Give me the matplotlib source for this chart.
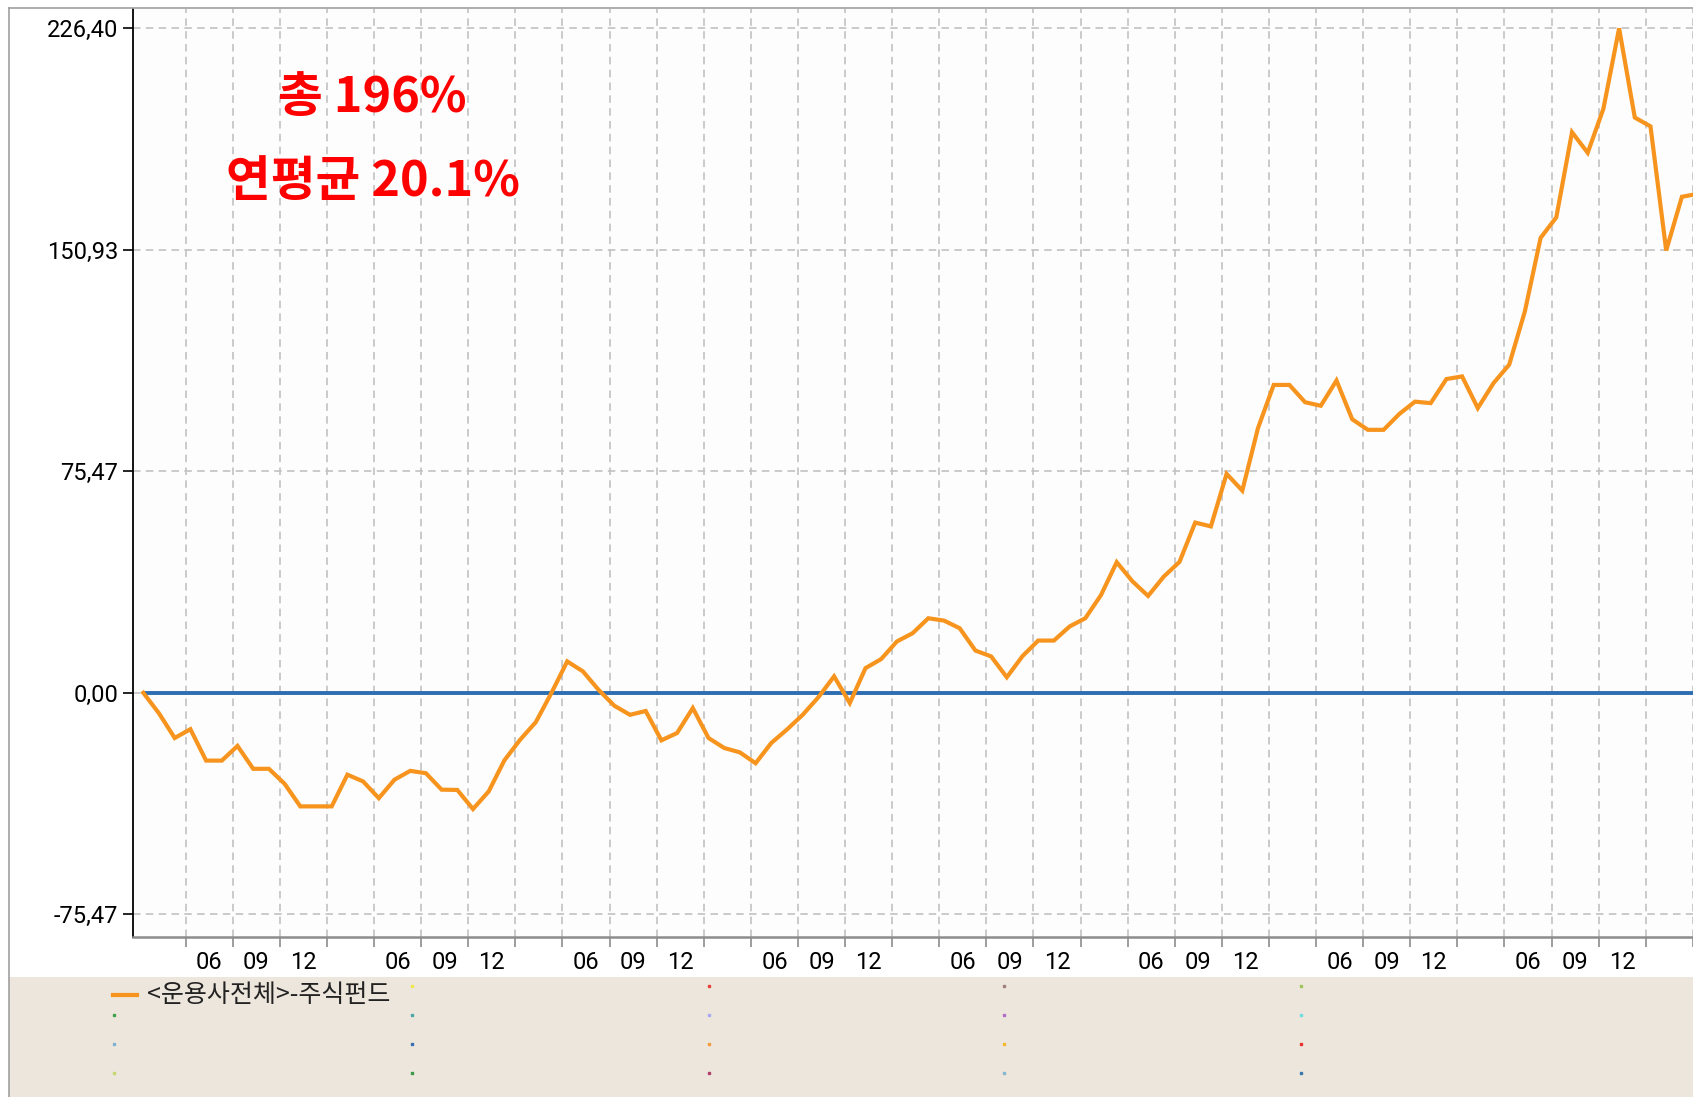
import matplotlib
matplotlib.use("Agg")
import matplotlib.pyplot as plt
from matplotlib.lines import Line2D
from matplotlib.patches import Rectangle
from matplotlib import font_manager

# ---------------- data ----------------
# monthly cumulative return (%) of the equity fund series
fund_values = [
    0.0, -7.0, -15.4, -12.4, -23.1, -23.1, -18.1, -25.9, -25.9, -31.0,
    -38.7, -38.7, -38.7, -27.9, -30.2, -35.9, -29.6, -26.6, -27.4, -33.0,
    -33.1, -39.6, -33.6, -23.0, -16.0, -10.0, 0.0, 10.7, 7.3, 1.0,
    -4.4, -7.5, -6.2, -16.2, -13.7, -5.2, -15.4, -18.8, -20.3, -24.0,
    -17.1, -12.5, -7.5, -1.5, 5.6, -3.5, 8.4, 11.5, 17.5, 20.3,
    25.4, 24.6, 22.0, 14.4, 12.4, 5.3, 12.5, 17.8, 17.8, 22.6,
    25.4, 33.3, 44.5, 38.0, 33.0, 39.6, 44.6, 58.0, 56.7, 74.6,
    68.9, 90.2, 104.9, 104.9, 99.0, 97.8, 106.4, 93.2, 89.6, 89.6,
    95.0, 99.2, 98.7, 106.9, 107.8, 97.0, 105.5, 111.8, 130.0, 155.0,
    162.0, 191.0, 184.0, 199.0, 226.4, 196.0, 193.0, 150.7, 169.0, 170.0,
]
months = list(range(len(fund_values)))
baseline_value = 0.0

series_label = "<운용사전체>-주식펀드"
y_ticks = [226.40, 150.93, 75.47, 0.00, -75.47]
y_tick_labels = ["226,40", "150,93", "75,47", "0,00", "-75,47"]
quarter_labels = ["06", "09", "12", ""]   # repeating per year (Q1 label omitted)
annot_total = "총 196%"
annot_annual = "연평균 20.1%"

legend_dot_colors = [
    [None, "#3fa34d", "#7fb3d5", "#c5d86d"],
    ["#f2e84b", "#4aa8a8", "#3a6fb0", "#3a9a4a"],
    ["#e8413c", "#a9a9f5", "#f59b3a", "#b0406a"],
    ["#a08080", "#b06cc8", "#f5b82e", "#86b8d0"],
    ["#9cc45a", "#6fdede", "#e83030", "#3a78b0"],
]

# ---------------- styling ----------------
W, H = 1693, 1097
FUND_COLOR = "#f7941e"
BASE_COLOR = "#2d6db2"
GRID_COLOR = "#c2c2c2"
LEGEND_BG = "#ede6dc"
QUARTER_START = 2.7   # month-index position of first quarter boundary

installed = {f.name for f in font_manager.fontManager.ttflist}
tick_family = ["Liberation Sans Narrow"] if "Liberation Sans Narrow" in installed else ["Roboto"]
tick_family = tick_family + ["DejaVu Sans"]
cjk_family = ["Noto Sans CJK KR", "DejaVu Sans"]

fig = plt.figure(figsize=(W / 100, H / 100), dpi=100)
fig.patch.set_facecolor("white")

def fx(px):
    return px / W

def fy(py):
    return 1 - py / H

# legend background band
fig.add_artist(Rectangle((fx(9), 0), 1 - fx(9), fy(977), transform=fig.transFigure,
                         facecolor=LEGEND_BG, edgecolor="none", zorder=0))
# outer frame lines
fig.add_artist(Line2D([fx(9), 1], [fy(7.5), fy(7.5)], transform=fig.transFigure,
                      color="#a0a0a0", lw=1.2))
fig.add_artist(Line2D([fx(9), fx(9)], [0, fy(7.5)], transform=fig.transFigure,
                      color="#a0a0a0", lw=1.2))

ax_left, ax_right, ax_top, ax_bot = 133, 1693, 8.5, 937
ax = fig.add_axes([fx(ax_left), fy(ax_bot), fx(ax_right - ax_left), (ax_bot - ax_top) / H])
ax.set_facecolor("#fdfdfd")

month_px = 15.70
x0_px = 143.3
xlim = (-(x0_px - ax_left) / month_px, (ax_right - x0_px) / month_px)
px_per_unit = 221.5 / 75.47
y_zero_px = 692.8
ylim = (-(ax_bot - y_zero_px) / px_per_unit, (y_zero_px - ax_top) / px_per_unit)

# quarter boundaries (major ticks + grid) and centred quarter labels (minor ticks)
q_bounds, q_centers, q_texts = [], [], []
k = 0
while QUARTER_START + 3 * k < xlim[1]:
    q_bounds.append(QUARTER_START + 3 * k)
    if QUARTER_START + 3 * k + 1.5 < xlim[1]:
        q_centers.append(QUARTER_START + 3 * k + 1.5)
        q_texts.append(quarter_labels[k % 4])
    k += 1
ax.set_xticks(q_bounds)
ax.set_xticklabels([])
ax.set_xticks(q_centers, minor=True)
ax.set_xticklabels(q_texts, minor=True, family=tick_family, fontsize=17)
ax.tick_params(axis="x", which="major", length=7.5, width=1.2, color="#8c8c8c", direction="out")
ax.tick_params(axis="x", which="minor", length=0, pad=10)

ax.set_yticks(y_ticks)
ax.set_yticklabels(y_tick_labels, family=tick_family, fontsize=17)
ax.tick_params(axis="y", length=7, width=1.2, color="black", pad=3.5)

ax.set_xlim(*xlim)
ax.set_ylim(*ylim)

dash = (0, (4.5, 3.2))
ax.grid(True, which="major", axis="both", color=GRID_COLOR, lw=1.2, linestyle=dash)
ax.set_axisbelow(True)

for s in ("top", "right"):
    ax.spines[s].set_visible(False)
ax.spines["left"].set_color("black")
ax.spines["left"].set_linewidth(1.3)
ax.spines["bottom"].set_color("#8c8c8c")
ax.spines["bottom"].set_linewidth(1.8)

ax.plot([months[0], months[-1]], [baseline_value, baseline_value], color=BASE_COLOR,
        lw=2.8, solid_capstyle="butt", zorder=3, clip_on=True)
ax.plot(months, fund_values, color=FUND_COLOR, lw=3.0, solid_joinstyle="miter",
        zorder=4, clip_on=True)
ax.set_xlim(*xlim)
ax.set_ylim(*ylim)

# red annotations
fig.text(fx(372.6), fy(97), annot_total, color="#ff0000", fontsize=35, fontweight="bold",
         family=cjk_family, ha="center", va="center")
fig.text(fx(372.6), fy(181), annot_annual, color="#ff0000", fontsize=35, fontweight="bold",
         family=cjk_family, ha="center", va="center")

# legend
col_x = [114.5, 411.5, 708.5, 1004.0, 1301.0]
row_y_dots = [986.0, 1015.0, 1044.0, 1073.0]
legend_y = 995.0
fig.add_artist(Line2D([fx(113), fx(137)], [fy(legend_y), fy(legend_y)], transform=fig.transFigure,
                      color=FUND_COLOR, lw=3.0))
fig.text(fx(147), fy(legend_y), series_label, family=cjk_family, fontsize=18,
         color="#222222", ha="left", va="center")
for ci, colors in enumerate(legend_dot_colors):
    for ri, c in enumerate(colors):
        if c is None:
            continue
        fig.add_artist(Line2D([fx(col_x[ci])], [fy(row_y_dots[ri])], transform=fig.transFigure,
                              marker="s", markersize=1.6, color=c, lw=0))

fig.savefig("out.png", dpi=100, facecolor="white")
